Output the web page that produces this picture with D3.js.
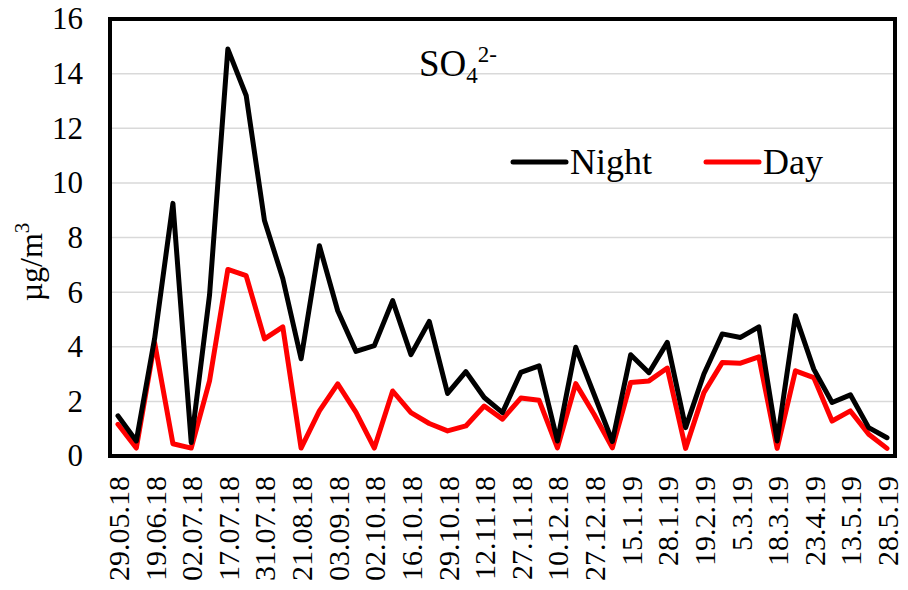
<!DOCTYPE html>
<html><head><meta charset="utf-8">
<script src="https://cdn.jsdelivr.net/npm/d3@7"></script>
<style>body{margin:0;background:#fff}svg{display:block}</style>
</head><body>
<script>
const tickLabels = ["29.05.18","19.06.18","02.07.18","17.07.18","31.07.18","21.08.18","03.09.18","02.10.18","16.10.18","29.10.18","12.11.18","27.11.18","10.12.18","27.12.18","15.1.19","28.1.19","19.2.19","5.3.19","18.3.19","23.4.19","13.5.19","28.5.19"];
const night = [1.47,0.55,4.3,9.25,0.49,5.9,14.9,13.2,8.62,6.5,3.56,7.7,5.32,3.83,4.04,5.69,3.71,4.93,2.29,3.09,2.14,1.59,3.06,3.3,0.55,3.98,2.26,0.53,3.71,3.05,4.16,1.04,3.0,4.47,4.34,4.73,0.55,5.14,3.18,1.96,2.24,1.04,0.67];
const day = [1.16,0.29,4.15,0.45,0.29,2.75,6.83,6.6,4.29,4.73,0.29,1.65,2.64,1.6,0.29,2.38,1.59,1.19,0.92,1.1,1.83,1.35,2.12,2.04,0.3,2.65,1.53,0.3,2.69,2.75,3.22,0.28,2.32,3.42,3.4,3.63,0.28,3.12,2.87,1.28,1.65,0.8,0.28];
const yTicks = [0,2,4,6,8,10,12,14,16];

const FONT = '"Liberation Serif"';
const W = 908, H = 590;
const L = 110, R = 895, T = 19, B = 456;
const svg = d3.select("body").append("svg").attr("width", W).attr("height", H);

const x = d3.scalePoint().domain(d3.range(night.length)).range([118, 887]);
const y = d3.scaleLinear().domain([0,16]).range([B, T]);

// gridlines
svg.append("g").selectAll("line").data(yTicks.filter(d => d > 0 && d < 16)).join("line")
  .attr("x1", L).attr("x2", R).attr("y1", d => y(d)).attr("y2", d => y(d))
  .attr("stroke", "#d9d9d9").attr("stroke-width", 1.5);

// y tick labels
const yAxis = d3.axisLeft(y).tickValues(yTicks).tickSize(0).tickPadding(27).tickFormat(d3.format("d"));
const gy = svg.append("g").attr("transform", `translate(${L},0)`).call(yAxis);
gy.select(".domain").remove();
gy.attr("font-family", null).attr("font-size", null);
gy.selectAll("text").style("font-family", FONT).style("font-size", "31px").attr("fill", "#000");

// x tick labels
const xAxis = d3.axisBottom(x).tickValues(d3.range(0, night.length, 2)).tickSize(0)
  .tickFormat(i => tickLabels[i / 2]);
const gx = svg.append("g").attr("transform", `translate(0,${B})`).call(xAxis);
gx.select(".domain").remove();
gx.attr("font-family", null).attr("font-size", null);
gx.selectAll("text").style("font-family", FONT).style("font-size", "30px").attr("fill", "#000")
  .attr("transform", "rotate(-90)").attr("text-anchor", "end")
  .attr("x", -20).attr("y", 0).attr("dy", "0.35em");

// lines
const line = d3.line().x((d, i) => x(i)).y(d => y(d));
svg.append("path").datum(day).attr("d", line).attr("fill", "none").attr("stroke", "#ff0000")
  .attr("stroke-width", 5).attr("stroke-linejoin", "round").attr("stroke-linecap", "round");
svg.append("path").datum(night).attr("d", line).attr("fill", "none").attr("stroke", "#000")
  .attr("stroke-width", 5).attr("stroke-linejoin", "round").attr("stroke-linecap", "round");

// border
svg.append("rect").attr("x", L + 1).attr("y", T + 1).attr("width", R - L).attr("height", B - T)
  .attr("fill", "none").attr("stroke", "#999").attr("stroke-width", 2);
svg.append("rect").attr("x", L).attr("y", T).attr("width", R - L).attr("height", B - T)
  .attr("fill", "none").attr("stroke", "#000").attr("stroke-width", 4);

// y title
svg.append("text").attr("transform", "translate(42,262) rotate(-90)").attr("text-anchor", "middle")
  .style("font-family", FONT).style("font-size", "32px").html('µg/m<tspan font-size="21" dy="-13">3</tspan>');

// chart title
svg.append("text").attr("x", 419).attr("y", 76).style("font-family", FONT).style("font-size", "37px")
  .html('SO<tspan font-size="23" dy="7">4</tspan><tspan font-size="23" dy="-21">2-</tspan>');

// legend
const legend = [{name: "Night", color: "#000", x: 513}, {name: "Day", color: "#ff0000", x: 706}];
const lg = svg.append("g").selectAll("g").data(legend).join("g").attr("transform", d => `translate(${d.x},162)`);
lg.append("line").attr("x1", 0).attr("x2", 53).attr("stroke", d => d.color).attr("stroke-width", 5).attr("stroke-linecap", "round");
lg.append("text").attr("x", 57).attr("y", 12).style("font-family", FONT).style("font-size", "36px").text(d => d.name);
</script>
</body></html>
